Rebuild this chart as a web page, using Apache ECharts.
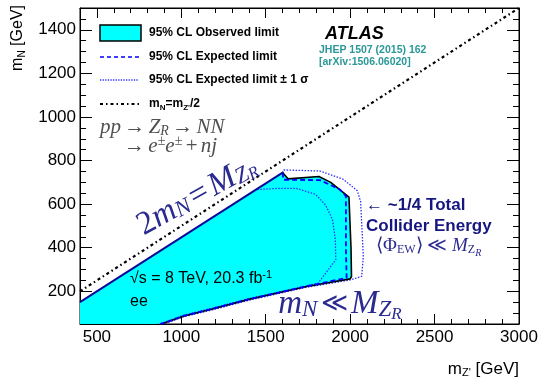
<!DOCTYPE html>
<html><head><meta charset="utf-8">
<script src="https://cdn.jsdelivr.net/npm/echarts@6/dist/echarts.min.js"></script>
<style>html,body{margin:0;padding:0;background:#fff}#c{width:541px;height:378px}</style>
</head><body><div id="c"></div>
<script>
// ---- data (GeV) ----
const xTicks = [500, 1000, 1500, 2000, 2500, 3000];
const yTicks = [200, 400, 600, 800, 1000, 1200, 1400];
const observedRegion = [[400,50],[400,150],[1600,745],[1632,716],[1815,727],[1885,700],[1993,632],[2005,400],[2008,268],[2000,257],[1743,222],[1400,163],[1190,120],[1012,86],[920,60],[850,50]];
const observedEdge = [[1600,745],[1632,716],[1815,727],[1885,700],[1993,632],[2005,400],[2008,268],[2000,257],[1743,222],[1400,163],[1190,120],[1012,86],[920,60],[880,50]];
const kinematicEdge = [[400,150],[1600,745]];
const expected = [[1600,745],[1604,712],[1821,710],[1940,667],[1975,636],[1975,391],[1979,262],[1743,223],[1400,164],[1190,121],[1012,87],[920,61],[875,50]];
const expectedMinus = [[1450,667],[1565,672],[1683,672],[1795,645],[1855,595],[1895,530],[1912,440],[1915,345],[1811,238],[1743,225],[1400,166],[1190,124],[1012,90],[920,63],[870,50]];
const expectedPlus = [[1600,745],[1604,757],[1821,752],[1959,714],[2042,662],[2062,612],[2078,360],[2068,268],[2000,252],[1743,219],[1400,159],[1190,116],[1012,83],[925,58],[890,50]];
const halfMassLine = [[400,200],[3000,1500]];

const SANS = 'Liberation Sans, Arial, sans-serif';
const SERIF = 'Liberation Serif, Times New Roman, serif';
const NAVY = '#2a2a90';
const DNAVY = '#161680';

const chart = echarts.init(document.getElementById('c'), null, {renderer:'canvas'});

function polygonRender(points, style){
  return function(params, api){
    return {type:'polygon', shape:{points: points.map(p => api.coord(p))}, style: style};
  };
}
function lineSeries(data, style, z){
  return {type:'line', data: data, showSymbol:false, symbol:'none', silent:true, z: z, lineStyle: style, xAxisIndex:0, yAxisIndex:0, clip:true};
}
const tickStyle = {color:'#000', width:1};
const plain = v => String(v);
function xAx(pos, major){
  const ax = {type:'value', gridIndex: major?0:1, min:400, max:3000, position:pos,
    axisLine:{show:major, onZero:false, lineStyle:{color:'#000', width:1}},
    axisTick:{show:true, inside:true, length: major?10:5, lineStyle:tickStyle},
    axisLabel:{show:false},
    splitLine:{show:false}};
  if (major) { ax.axisTick.customValues = xTicks; } else { ax.interval = 100; }
  if (major && pos === 'bottom') ax.axisLabel = {show:true, customValues:xTicks, formatter:plain, fontSize:17, color:'#000', fontFamily:SANS, margin:5};
  return ax;
}
function yAx(pos, major){
  const ax = {type:'value', gridIndex: major?0:1, min:50, max:1500, position:pos,
    axisLine:{show:major, onZero:false, lineStyle:{color:'#000', width:1}},
    axisTick:{show:true, inside:true, length: major?12:6, lineStyle:tickStyle},
    axisLabel:{show:false},
    splitLine:{show:false}};
  if (major) { ax.axisTick.customValues = yTicks; } else { ax.interval = 50; }
  if (major && pos === 'left') ax.axisLabel = {show:true, customValues:yTicks, formatter:plain, fontSize:17, color:'#000', fontFamily:SANS, margin:4};
  return ax;
}

const legendFont = 'bold 12px ' + SANS;
const gridBox = {left:80, right:22, top:8, bottom:54, containLabel:false};
const option = {
  animation:false,
  backgroundColor:'#fff',
  grid:[Object.assign({show:true, borderColor:'#000', borderWidth:1, backgroundColor:'transparent'}, gridBox), Object.assign({}, gridBox)],
  xAxis:[xAx('bottom',true), xAx('top',true), xAx('bottom',false), xAx('top',false)],
  yAxis:[yAx('left',true), yAx('right',true), yAx('left',false), yAx('right',false)],
  series:[
    {type:'custom', data:[[400,50]], renderItem: polygonRender(observedRegion, {fill:'#00ffff'}), silent:true, clip:true, z:1},
    lineSeries(expectedMinus, {color:'#3030ff', width:1.3, type:[1.5,1.5]}, 3),
    lineSeries(expectedPlus, {color:'#3030ff', width:1.3, type:[1.5,1.5]}, 3),
    lineSeries(observedEdge, {color:'#000', width:1.6}, 4),
    lineSeries(expected, {color:'#0000ff', width:1.8, type:[5,3]}, 5),
    lineSeries(kinematicEdge, {color:'#0a0a9a', width:2}, 5),
    lineSeries(halfMassLine, {color:'#000', width:2.2, type:[3,3,1.5,3]}, 6)
  ],
  graphic:[
    // legend
    {type:'rect', shape:{x:100, y:25, width:41, height:16}, style:{fill:'#00ffff', stroke:'#000', lineWidth:1.5}, z:10},
    {type:'line', shape:{x1:100, y1:57, x2:139, y2:57}, style:{stroke:'#0000ff', lineWidth:1.3, lineDash:[4,3]}, z:10},
    {type:'line', shape:{x1:100, y1:80, x2:139, y2:80}, style:{stroke:'#3030ff', lineWidth:1.3, lineDash:[1.3,1.3]}, z:10},
    {type:'line', shape:{x1:100, y1:104, x2:139, y2:104}, style:{stroke:'#000', lineWidth:2.2, lineDash:[3,3,1.5,3]}, z:10},
    {type:'text', x:149, y:33, style:{text:'95% CL Observed limit', font:legendFont, fill:'#000', verticalAlign:'middle'}, z:10},
    {type:'text', x:149, y:57, style:{text:'95% CL Expected limit', font:legendFont, fill:'#000', verticalAlign:'middle'}, z:10},
    {type:'text', x:149, y:80, style:{text:'95% CL Expected limit \u00b1 1 \u03c3', font:legendFont, fill:'#000', verticalAlign:'middle'}, z:10},
    {type:'text', x:149, y:104, style:{text:'{t|m}{s|N}{t|=m}{s|Z\'}{t|/2}', verticalAlign:'middle',
      rich:{t:{font:legendFont, fill:'#000'}, s:{font:'bold 8px '+SANS, fill:'#000', padding:[7,0,0,0]}}}, z:10},
    // ATLAS
    {type:'text', x:325, y:34, style:{text:'ATLAS', font:'italic bold 18px '+SANS, fill:'#000', verticalAlign:'middle'}, z:10},
    {type:'text', x:319, y:50, style:{text:'JHEP 1507 (2015) 162', font:'bold 10.5px '+SANS, fill:'#2a9898', verticalAlign:'middle'}, z:10},
    {type:'text', x:319, y:62, style:{text:'[arXiv:1506.06020]', font:'bold 10.5px '+SANS, fill:'#2a9898', verticalAlign:'middle'}, z:10},
    // process
    {type:'text', x:100, y:127, style:{text:'{i|pp} {n|\u2192} {i|Z}{s|R} {n|\u2192} {i|NN}', verticalAlign:'middle',
      rich:{i:{font:'italic 21px '+SERIF, fill:'#505050'}, n:{font:'21px '+SERIF, fill:'#505050'}, s:{font:'italic 14px '+SERIF, fill:'#505050', padding:[9,0,0,0]}}}, z:10},
    {type:'text', x:124, y:146, style:{text:'{n|\u2192} {i|e}{p|\u00b1}{i|e}{p|\u00b1} {n|+} {i|nj}', verticalAlign:'middle',
      rich:{i:{font:'italic 21px '+SERIF, fill:'#505050'}, n:{font:'21px '+SERIF, fill:'#505050'}, p:{font:'14px '+SERIF, fill:'#505050', padding:[0,0,9,0]}}}, z:10},
    // rotated annotation
    {type:'text', x:197, y:196, rotation:29*Math.PI/180, style:{text:'{n|2}{i|m}{s|N} {n|=} {i|M}{s|Z}{ss|R}', align:'center', verticalAlign:'middle',
      rich:{i:{font:'italic 33px '+SERIF, fill:NAVY}, n:{font:'33px '+SERIF, fill:NAVY}, s:{font:'italic 23px '+SERIF, fill:NAVY, padding:[9,0,0,0]}, ss:{font:'italic 17px '+SERIF, fill:NAVY, padding:[16,0,0,0]}}}, z:10},
    {type:'text', x:340, y:304, style:{text:'{i|m}{s|N} {n|\u226a} {i|M}{s|Z}{ss|R}', align:'center', verticalAlign:'middle',
      rich:{i:{font:'italic 33px '+SERIF, fill:NAVY}, n:{font:'26px "DejaVu Serif", serif', fill:NAVY}, s:{font:'italic 23px '+SERIF, fill:NAVY, padding:[12,0,0,0]}, ss:{font:'italic 17px '+SERIF, fill:NAVY, padding:[22,0,0,0]}}}, z:10},
    // collider energy note
    {type:'text', x:366, y:205, style:{text:'\u2190 ~1/4 Total', font:'bold 17px '+SANS, fill:DNAVY, verticalAlign:'middle'}, z:10},
    {type:'text', x:366, y:226, style:{text:'Collider Energy', font:'bold 17px '+SANS, fill:DNAVY, verticalAlign:'middle'}, z:10},
    {type:'text', x:376, y:246, style:{text:'{n|\u27e8\u03a6}{s|EW}{n|\u27e9 \u226a }{i|M}{s|Z}{ss|R}', verticalAlign:'middle',
      rich:{i:{font:'italic 19px '+SERIF, fill:NAVY}, n:{font:'19px '+SERIF, fill:NAVY}, s:{font:'12px '+SERIF, fill:NAVY, padding:[7,0,0,0]}, ss:{font:'italic 10px '+SERIF, fill:NAVY, padding:[14,0,0,0]}}}, z:10},
    // sqrt s
    {type:'text', x:130, y:279, style:{text:'{t|\u221as = 8 TeV, 20.3 fb}{p|-1}', verticalAlign:'middle',
      rich:{t:{font:'16px '+SANS, fill:'#000'}, p:{font:'11px '+SANS, fill:'#000', padding:[0,0,9,0]}}}, z:10},
    {type:'text', x:130, y:302, style:{text:'ee', font:'16px '+SANS, fill:'#000', verticalAlign:'middle'}, z:10},
    // axis titles
    {type:'text', x:519, y:369, style:{text:'{t|m}{s|Z\'}{t| [GeV]}', align:'right', verticalAlign:'middle',
      rich:{t:{font:'17px '+SANS, fill:'#000'}, s:{font:'11px '+SANS, fill:'#000', padding:[8,0,0,0]}}}, z:10},
    {type:'text', x:18, y:5, rotation:Math.PI/2, style:{text:'{t|m}{s|N}{t| [GeV]}', align:'right', verticalAlign:'middle',
      rich:{t:{font:'16px '+SANS, fill:'#000'}, s:{font:'10px '+SANS, fill:'#000', padding:[8,0,0,0]}}}, z:10}
  ]
};
chart.setOption(option);
</script></body></html>
